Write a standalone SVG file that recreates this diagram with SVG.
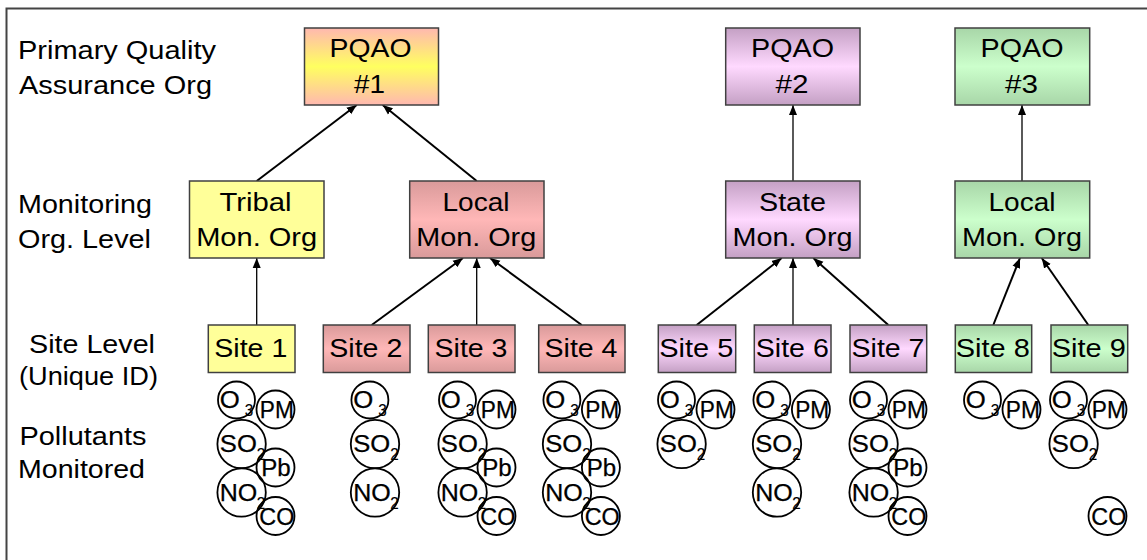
<svg xmlns="http://www.w3.org/2000/svg" xmlns:xlink="http://www.w3.org/1999/xlink" width="1147" height="560" viewBox="0 0 1147 560">
<style>
text{font-family:"Liberation Sans",Arial,sans-serif;fill:#000}
.lbl{font-size:25px}
.nt{font-size:25px;text-anchor:middle}
.box{stroke:#404040;stroke-width:1.5}
.pc{fill:none;stroke:#000;stroke-width:1.8}
.pt{font-size:23px;stroke:#000;stroke-width:0.25}
.pm{font-size:23px;text-anchor:middle;stroke:#000;stroke-width:0.25}
.sub{font-size:17px;stroke:#000;stroke-width:0.15}
.c2{stroke:#000;stroke-width:2;fill:none}
.c1{stroke:#000;stroke-width:1.3;fill:none}
.frame{stroke:#444;stroke-width:2;fill:none}
</style>
<defs>
<linearGradient id="gY" x1="0" y1="0" x2="0" y2="1"><stop offset="0" stop-color="#ffb8b0"/><stop offset="0.5" stop-color="#ffff60"/><stop offset="1" stop-color="#ffb8b0"/></linearGradient>
<linearGradient id="gR" x1="0" y1="0" x2="0" y2="1"><stop offset="0" stop-color="#d99a9a"/><stop offset="0.5" stop-color="#ffb7b7"/><stop offset="1" stop-color="#d99a9a"/></linearGradient>
<linearGradient id="gP" x1="0" y1="0" x2="0" y2="1"><stop offset="0" stop-color="#c4a0c4"/><stop offset="0.5" stop-color="#ffd9ff"/><stop offset="1" stop-color="#c4a0c4"/></linearGradient>
<linearGradient id="gG" x1="0" y1="0" x2="0" y2="1"><stop offset="0" stop-color="#a8d6a8"/><stop offset="0.5" stop-color="#ccffcc"/><stop offset="1" stop-color="#a8d6a8"/></linearGradient>
<marker id="ah" markerUnits="userSpaceOnUse" markerWidth="11" markerHeight="10" refX="10" refY="4.5" orient="auto"><path d="M0,0.5 L10,4.5 L0,8.5 z" fill="#000"/></marker>
<g id="o3"><circle class="pc" cx="19.2" cy="400" r="18.5"/><text class="pt" x="2.5" y="408" textLength="20" lengthAdjust="spacingAndGlyphs">O</text><text class="sub" x="27.5" y="416" textLength="8.5" lengthAdjust="spacingAndGlyphs">3</text></g>
<g id="pm"><circle class="pc" cx="58.2" cy="409.5" r="19"/><text class="pm" x="59.5" y="418" textLength="34" lengthAdjust="spacingAndGlyphs">PM</text></g>
<g id="so2"><circle class="pc" cx="24.3" cy="444" r="24.2"/><text class="pt" x="2.5" y="452" textLength="37" lengthAdjust="spacingAndGlyphs">SO</text><text class="sub" x="39.5" y="460" textLength="8.5" lengthAdjust="spacingAndGlyphs">2</text></g>
<g id="pb"><circle class="pc" cx="58.2" cy="467.5" r="19"/><text class="pm" x="58.7" y="476" textLength="29.5" lengthAdjust="spacingAndGlyphs">Pb</text></g>
<g id="no2"><circle class="pc" cx="24.3" cy="492.5" r="24.2"/><text class="pt" x="2.5" y="500.5" textLength="37.5" lengthAdjust="spacingAndGlyphs">NO</text><text class="sub" x="39.5" y="508.5" textLength="8.5" lengthAdjust="spacingAndGlyphs">2</text></g>
<g id="co"><circle class="pc" cx="58.2" cy="516" r="19"/><text class="pm" x="59.5" y="524.5" textLength="35" lengthAdjust="spacingAndGlyphs">CO</text></g>
</defs>
<rect x="0" y="0" width="1147" height="560" fill="#fff"/>
<path class="frame" d="M6.5,560 V8.5 H1147"/>

<g id="level-labels">
<text class="lbl" x="18" y="59" textLength="198" lengthAdjust="spacingAndGlyphs">Primary Quality</text>
<text class="lbl" x="19" y="94" textLength="193" lengthAdjust="spacingAndGlyphs">Assurance Org</text>
<text class="lbl" x="18" y="213" textLength="134" lengthAdjust="spacingAndGlyphs">Monitoring</text>
<text class="lbl" x="18" y="248" textLength="133" lengthAdjust="spacingAndGlyphs">Org. Level</text>
<text class="lbl" x="29" y="353" textLength="126" lengthAdjust="spacingAndGlyphs">Site Level</text>
<text class="lbl" x="19" y="385" textLength="139" lengthAdjust="spacingAndGlyphs">(Unique ID)</text>
<text class="lbl" x="19.5" y="445" textLength="127" lengthAdjust="spacingAndGlyphs">Pollutants</text>
<text class="lbl" x="18" y="478" textLength="127" lengthAdjust="spacingAndGlyphs">Monitored</text>
</g>

<g id="connectors">
<line class="c2" x1="256.7" y1="181" x2="356.7" y2="105" marker-end="url(#ah)"/>
<line class="c2" x1="476.7" y1="181" x2="382.7" y2="105" marker-end="url(#ah)"/>
<line class="c1" x1="793" y1="181" x2="793" y2="105" marker-end="url(#ah)"/>
<line class="c1" x1="1022" y1="181" x2="1022" y2="105" marker-end="url(#ah)"/>
<line class="c1" x1="256.7" y1="325" x2="256.7" y2="258" marker-end="url(#ah)"/>
<line class="c2" x1="371.7" y1="325" x2="463" y2="258" marker-end="url(#ah)"/>
<line class="c1" x1="476.7" y1="325" x2="476.7" y2="258" marker-end="url(#ah)"/>
<line class="c2" x1="581.7" y1="325" x2="490" y2="258" marker-end="url(#ah)"/>
<line class="c2" x1="696.7" y1="325" x2="781.7" y2="258" marker-end="url(#ah)"/>
<line class="c1" x1="793" y1="325" x2="793" y2="258" marker-end="url(#ah)"/>
<line class="c2" x1="888.3" y1="325" x2="813.3" y2="258" marker-end="url(#ah)"/>
<line class="c2" x1="993.3" y1="325" x2="1020" y2="258" marker-end="url(#ah)"/>
<line class="c2" x1="1088.3" y1="325" x2="1041.7" y2="258" marker-end="url(#ah)"/>
</g>

<g id="pqao1"><rect class="box" x="304.5" y="28" width="134" height="77" fill="url(#gY)"/><text class="nt" x="370.5" y="57" textLength="82" lengthAdjust="spacingAndGlyphs">PQAO</text><text class="nt" x="369.5" y="93" textLength="31" lengthAdjust="spacingAndGlyphs">#1</text></g>
<g id="pqao2"><rect class="box" x="725.7" y="28" width="134.3" height="77" fill="url(#gP)"/><text class="nt" x="792.5" y="57" textLength="83" lengthAdjust="spacingAndGlyphs">PQAO</text><text class="nt" x="792" y="93" textLength="33" lengthAdjust="spacingAndGlyphs">#2</text></g>
<g id="pqao3"><rect class="box" x="955" y="28" width="134.7" height="77" fill="url(#gG)"/><text class="nt" x="1022" y="57" textLength="83" lengthAdjust="spacingAndGlyphs">PQAO</text><text class="nt" x="1021.5" y="93" textLength="33" lengthAdjust="spacingAndGlyphs">#3</text></g>

<g id="tribal"><rect class="box" x="189.5" y="181" width="134.5" height="77" fill="#ffff99"/><text class="nt" x="255.5" y="211" textLength="72" lengthAdjust="spacingAndGlyphs">Tribal</text><text class="nt" x="256.7" y="246" textLength="121" lengthAdjust="spacingAndGlyphs">Mon. Org</text></g>
<g id="local1"><rect class="box" x="409.7" y="181" width="134.3" height="77" fill="url(#gR)"/><text class="nt" x="476" y="211" textLength="67" lengthAdjust="spacingAndGlyphs">Local</text><text class="nt" x="476.2" y="246" textLength="120" lengthAdjust="spacingAndGlyphs">Mon. Org</text></g>
<g id="state"><rect class="box" x="725.7" y="181" width="134.3" height="77" fill="url(#gP)"/><text class="nt" x="792.5" y="211" textLength="67" lengthAdjust="spacingAndGlyphs">State</text><text class="nt" x="792.5" y="246" textLength="120" lengthAdjust="spacingAndGlyphs">Mon. Org</text></g>
<g id="local3"><rect class="box" x="955" y="181" width="134.7" height="77" fill="url(#gG)"/><text class="nt" x="1022" y="211" textLength="67" lengthAdjust="spacingAndGlyphs">Local</text><text class="nt" x="1022" y="246" textLength="120" lengthAdjust="spacingAndGlyphs">Mon. Org</text></g>

<g id="site1"><rect class="box" x="208.3" y="325" width="86.7" height="47.5" fill="#ffff99"/><text class="nt" x="250.8" y="357" textLength="73" lengthAdjust="spacingAndGlyphs">Site 1</text></g>
<g id="site2"><rect class="box" x="323.3" y="325" width="86.7" height="47.5" fill="url(#gR)"/><text class="nt" x="365.8" y="357" textLength="73" lengthAdjust="spacingAndGlyphs">Site 2</text></g>
<g id="site3"><rect class="box" x="428.3" y="325" width="86.7" height="47.5" fill="url(#gR)"/><text class="nt" x="471" y="357" textLength="73" lengthAdjust="spacingAndGlyphs">Site 3</text></g>
<g id="site4"><rect class="box" x="538.7" y="325" width="86.3" height="47.5" fill="url(#gR)"/><text class="nt" x="581" y="357" textLength="73" lengthAdjust="spacingAndGlyphs">Site 4</text></g>
<g id="site5"><rect class="box" x="658.3" y="325" width="77.4" height="47.5" fill="url(#gP)"/><text class="nt" x="696.3" y="357" textLength="74" lengthAdjust="spacingAndGlyphs">Site 5</text></g>
<g id="site6"><rect class="box" x="754.3" y="325" width="76.7" height="47.5" fill="url(#gP)"/><text class="nt" x="792.3" y="357" textLength="73" lengthAdjust="spacingAndGlyphs">Site 6</text></g>
<g id="site7"><rect class="box" x="850" y="325" width="76.7" height="47.5" fill="url(#gP)"/><text class="nt" x="888" y="357" textLength="73" lengthAdjust="spacingAndGlyphs">Site 7</text></g>
<g id="site8"><rect class="box" x="955.3" y="325" width="76.4" height="47.5" fill="url(#gG)"/><text class="nt" x="992.8" y="357" textLength="74" lengthAdjust="spacingAndGlyphs">Site 8</text></g>
<g id="site9"><rect class="box" x="1051" y="325" width="76.7" height="47.5" fill="url(#gG)"/><text class="nt" x="1088.8" y="357" textLength="74" lengthAdjust="spacingAndGlyphs">Site 9</text></g>

<g id="pollutants-site1"><use xlink:href="#o3" x="217.3"/><use xlink:href="#pm" x="217.3"/><use xlink:href="#so2" x="217.3"/><use xlink:href="#pb" x="217.3"/><use xlink:href="#no2" x="217.3"/><use xlink:href="#co" x="217.3"/></g>
<g id="pollutants-site2"><use xlink:href="#o3" x="350.7"/><use xlink:href="#so2" x="350.7"/><use xlink:href="#no2" x="350.7"/></g>
<g id="pollutants-site3"><use xlink:href="#o3" x="438.3"/><use xlink:href="#pm" x="438.3"/><use xlink:href="#so2" x="438.3"/><use xlink:href="#pb" x="438.3"/><use xlink:href="#no2" x="438.3"/><use xlink:href="#co" x="438.3"/></g>
<g id="pollutants-site4"><use xlink:href="#o3" x="542.7"/><use xlink:href="#pm" x="542.7"/><use xlink:href="#so2" x="542.7"/><use xlink:href="#pb" x="542.7"/><use xlink:href="#no2" x="542.7"/><use xlink:href="#co" x="542.7"/></g>
<g id="pollutants-site5"><use xlink:href="#o3" x="657.3"/><use xlink:href="#pm" x="657.3"/><use xlink:href="#so2" x="657.3"/></g>
<g id="pollutants-site6"><use xlink:href="#o3" x="752.7"/><use xlink:href="#pm" x="752.7"/><use xlink:href="#so2" x="752.7"/><use xlink:href="#no2" x="752.7"/></g>
<g id="pollutants-site7"><use xlink:href="#o3" x="849.3"/><use xlink:href="#pm" x="849.3"/><use xlink:href="#so2" x="849.3"/><use xlink:href="#pb" x="849.3"/><use xlink:href="#no2" x="849.3"/><use xlink:href="#co" x="849.3"/></g>
<g id="pollutants-site8"><use xlink:href="#o3" x="963.3"/><use xlink:href="#pm" x="963.3"/></g>
<g id="pollutants-site9"><use xlink:href="#o3" x="1049.3"/><use xlink:href="#pm" x="1049.3"/><use xlink:href="#so2" x="1049.3"/><use xlink:href="#co" x="1049.3"/></g>
</svg>
